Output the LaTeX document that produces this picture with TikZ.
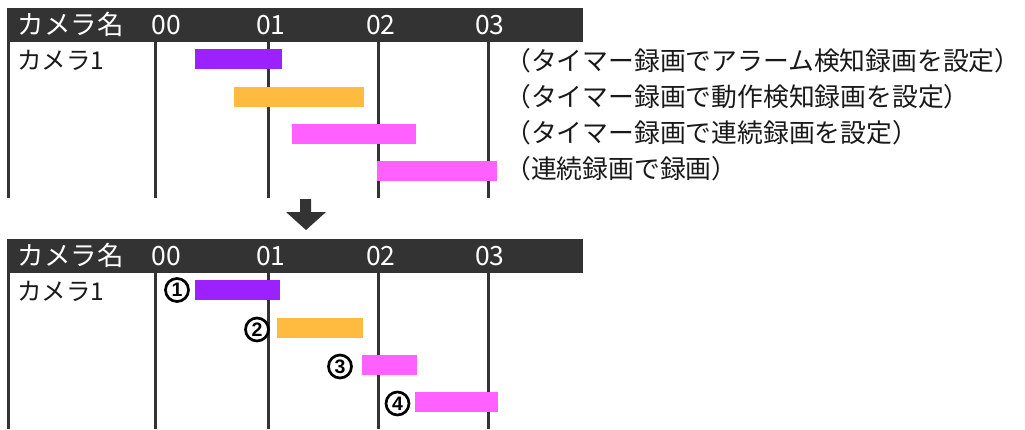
\documentclass[tikz,border=0pt]{standalone}
\usepackage{fontspec}
\newfontfamily\jp{Noto Sans CJK JP}
\newfontfamily\numf{Liberation Sans}
\definecolor{hdr}{HTML}{333333}
\definecolor{barpurple}{HTML}{9B22FF}
\definecolor{barorange}{HTML}{FFBA3F}
\definecolor{barpink}{HTML}{FF60FF}
\tikzset{
  hdrtext/.style={anchor=base west, inner sep=0pt, text=white, font=\jp\fontsize{26.5}{30}\selectfont},
  lbltext/.style={anchor=base west, inner sep=0pt, text=black!90, font=\jp\fontsize{24.5}{28}\selectfont},
  notetext/.style={anchor=base west, inner sep=0pt, text=black!90, font=\jp\fontsize{25.8}{30}\selectfont},
  gridline/.style={draw=hdr, line width=3pt},
  barbox/.style={anchor=north west, inner sep=0pt, minimum height=20pt},
  numcirc/.style={circle, draw=black, line width=2.7pt, minimum size=23pt, inner sep=0pt, font=\numf\bfseries\fontsize{19.5}{19.5}\selectfont}
}
\begin{document}
\begin{tikzpicture}[x=1pt,y=-1pt]
\useasboundingbox (0,0) rectangle (1025,429);
% ---------- top chart ----------
\fill[hdr] (7,8) rectangle (583,42);
\foreach \x in {8.5,155.5,268.5,378.5,488.5} \draw[gridline] (\x,42) -- (\x,198);
\node[hdrtext] (th0) at (17.5,34.5) {カメラ名};
\node[hdrtext] (th1) at (151.5,34.5) {00};
\node[hdrtext] (th2) at (256,34.5) {01};
\node[hdrtext] (th3) at (366,34.5) {02};
\node[hdrtext] (th4) at (475,34.5) {03};
\node[lbltext] (tcam) at (17,69) {カメラ1};
\node[barbox, fill=barpurple, minimum width=87pt] (tb1) at (195,49) {};
\node[barbox, fill=barorange, minimum width=130pt] (tb2) at (234,87) {};
\node[barbox, fill=barpink, minimum width=124pt] (tb3) at (292,124) {};
\node[barbox, fill=barpink, minimum width=120pt] (tb4) at (377,161) {};
\node[notetext] (n1) at (505,70) {（タイマー録画でアラーム検知録画を設定）};
\node[notetext] (n2) at (505,106.5) {（タイマー録画で動作検知録画を設定）};
\node[notetext] (n3) at (505,142.5) {（タイマー録画で連続録画を設定）};
\node[notetext] (n4) at (505,178.5) {（連続録画で録画）};
% ---------- arrow ----------
\fill[hdr] (300,199) -- (311,199) -- (311,212) -- (326,212) -- (306,230) -- (286,212) -- (300,212) -- cycle;
% ---------- bottom chart ----------
\fill[hdr] (7,239) rectangle (583,273);
\foreach \x in {8.5,155.5,268.5,378.5,488.5} \draw[gridline] (\x,273) -- (\x,429);
\node[hdrtext] (bh0) at (17.5,265.5) {カメラ名};
\node[hdrtext] (bh1) at (151.5,265.5) {00};
\node[hdrtext] (bh2) at (256,265.5) {01};
\node[hdrtext] (bh3) at (366,265.5) {02};
\node[hdrtext] (bh4) at (475,265.5) {03};
\node[lbltext] (bcam) at (17,300) {カメラ1};
\node[barbox, fill=barpurple, minimum width=85pt] (bb1) at (195,280) {};
\node[barbox, fill=barorange, minimum width=86pt] (bb2) at (277,318) {};
\node[barbox, fill=barpink, minimum width=55pt] (bb3) at (362,355) {};
\node[barbox, fill=barpink, minimum width=83pt] (bb4) at (415,392) {};
\node[numcirc] (c1) at (177,290) {1};
\node[numcirc] (c2) at (257,329.5) {2};
\node[numcirc] (c3) at (340,366.5) {3};
\node[numcirc] (c4) at (397.5,403.5) {4};
\end{tikzpicture}
\end{document}
